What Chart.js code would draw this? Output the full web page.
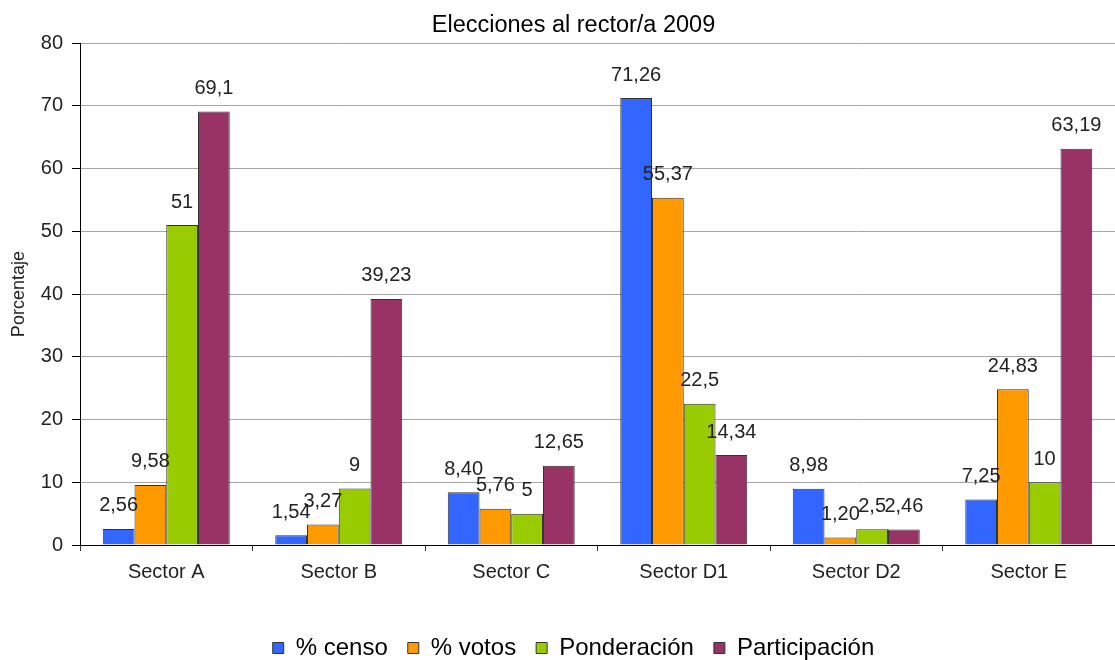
<!DOCTYPE html>
<html>
<head>
<meta charset="utf-8">
<script src="https://cdn.jsdelivr.net/npm/chart.js@4.4.1/dist/chart.umd.min.js"></script>
<style>
  html, body { margin: 0; padding: 0; background: #fff; }
  #wrap { width: 1115px; height: 660px; }
</style>
</head>
<body>
<div id="wrap"><canvas id="chart" width="1115" height="660"></canvas></div>
<script>
// Data (labels kept as printed, with decimal comma)
const sectors = ['Sector A', 'Sector B', 'Sector C', 'Sector D1', 'Sector D2', 'Sector E'];
const censo = ['2,56', '1,54', '8,40', '71,26', '8,98', '7,25'];
const votos = ['9,58', '3,27', '5,76', '55,37', '1,20', '24,83'];
const ponderacion = ['51', '9', '5', '22,5', '2,5', '10'];
const participacion = ['69,1', '39,23', '12,65', '14,34', '2,46', '63,19'];
const yTicks = [0, 10, 20, 30, 40, 50, 60, 70, 80];

const toNum = s => parseFloat(s.replace(',', '.'));
const seriesText = [censo, votos, ponderacion, participacion];
const FONT = '"Liberation Sans", Arial, sans-serif';

// value labels above each bar
const barLabels = {
    id: 'barLabels',
    afterDatasetsDraw(chart) {
        const ctx = chart.ctx;
        ctx.save();
        ctx.font = '20px ' + FONT;
        ctx.fillStyle = '#222';
        ctx.textAlign = 'center';
        ctx.textBaseline = 'middle';
        chart.data.datasets.forEach((ds, i) => {
            chart.getDatasetMeta(i).data.forEach((bar, j) => {
                ctx.fillText(seriesText[i][j], bar.x, bar.y - 23);
            });
        });
        ctx.restore();
    }
};

const ctx = document.getElementById('chart').getContext('2d');

const chart = new Chart(ctx, {
    type: 'bar',
    data: {
        labels: sectors,
        datasets: [
            { label: '% censo', data: censo.map(toNum), backgroundColor: '#3366FF' },
            { label: '% votos', data: votos.map(toNum), backgroundColor: '#FF9900' },
            { label: 'Ponderación', data: ponderacion.map(toNum), backgroundColor: '#99CC00' },
            { label: 'Participación', data: participacion.map(toNum), backgroundColor: '#993366' }
        ]
    },
    options: {
        responsive: false,
        animation: false,
        // left padding shifts title/legend centre right, like the original
        layout: { padding: { left: 32, right: 0, top: 0, bottom: -10 } },
        datasets: {
            bar: {
                borderColor: '#333',
                borderWidth: 1,
                categoryPercentage: 0.736,
                barPercentage: 1
            }
        },
        plugins: {
            title: {
                display: true,
                text: 'Elecciones al rector/a 2009',
                color: '#000',
                font: { family: FONT, size: 23.5, weight: 'normal' },
                padding: { top: 11, bottom: 4 }
            },
            legend: {
                position: 'bottom',
                labels: {
                    color: '#000',
                    font: { family: FONT, size: 24 },
                    boxWidth: 11,
                    boxHeight: 11,
                    padding: 20,
                    generateLabels(chart) {
                        return chart.data.datasets.map((ds, i) => ({
                            text: ds.label,
                            fillStyle: ds.backgroundColor,
                            strokeStyle: '#333',
                            lineWidth: 1,
                            datasetIndex: i
                        }));
                    }
                }
            },
            tooltip: { enabled: false }
        },
        scales: {
            x: {
                grid: {
                    display: true,
                    drawOnChartArea: false,
                    offset: true,
                    tickLength: 6,
                    color: '#333'
                },
                border: { color: '#000' },
                ticks: {
                    color: '#222',
                    font: { family: FONT, size: 20 },
                    padding: 9,
                    maxRotation: 0
                },
                afterFit(scale) { scale.height = 71; }
            },
            y: {
                min: 0,
                max: 80,
                afterBuildTicks(scale) { scale.ticks = yTicks.map(v => ({ value: v })); },
                grid: {
                    color: '#a6a6a6',
                    tickLength: 8,
                    tickColor: '#000'
                },
                border: { color: '#000' },
                ticks: {
                    color: '#222',
                    font: { family: FONT, size: 20 },
                    padding: 9
                },
                title: {
                    display: true,
                    text: 'Porcentaje',
                    color: '#222',
                    font: { family: FONT, size: 18 },
                    padding: { top: -24, bottom: 0 }
                },
                afterFit(scale) { scale.width = 48; }
            }
        }
    },
    plugins: [barLabels]
});
</script>
</body>
</html>
